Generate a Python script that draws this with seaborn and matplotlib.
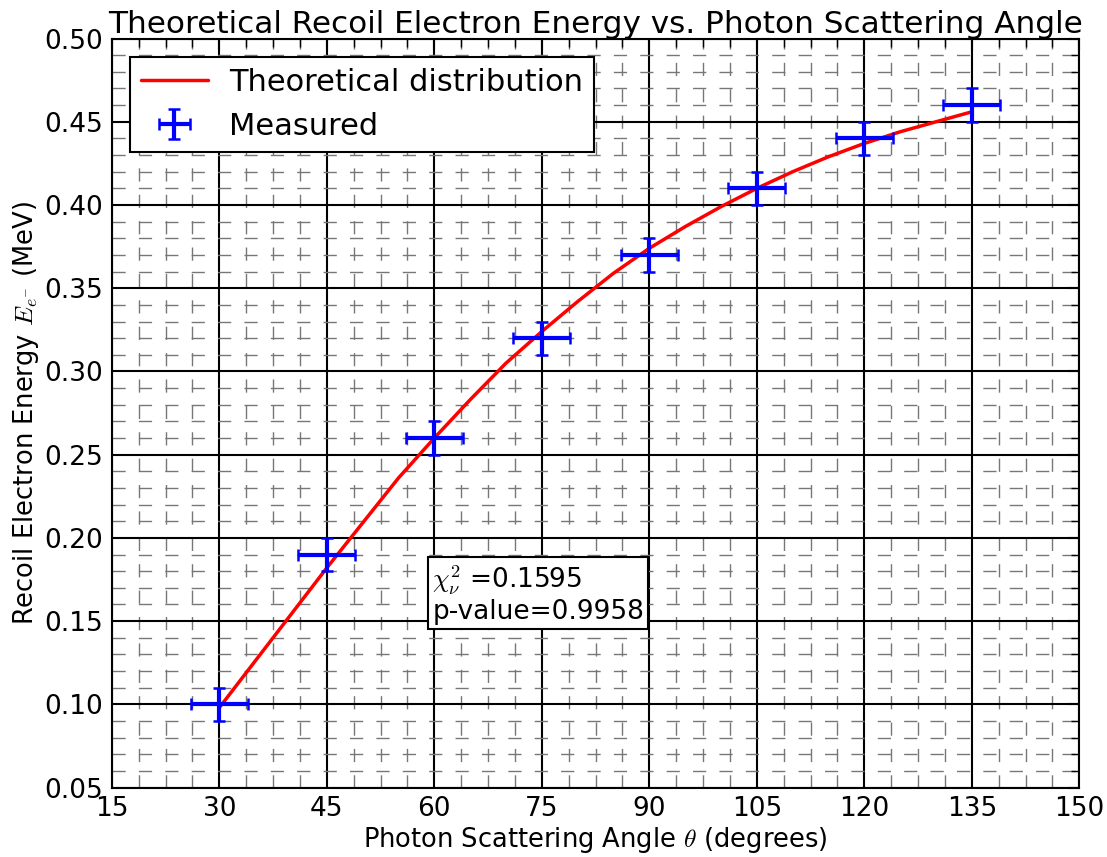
import numpy as np
import pandas as pd
import seaborn as sns
import matplotlib.pyplot as plt
from matplotlib.ticker import MultipleLocator, FormatStrFormatter

# Theoretical curve
theory_angle = [30, 35, 40, 45, 50, 55, 60, 65, 70, 75, 80, 85,
                90, 95, 100, 105, 110, 115, 120, 125, 130, 135]
theory_energy = [0.098, 0.126, 0.154, 0.182, 0.209, 0.236, 0.260, 0.283,
                 0.305, 0.324, 0.342, 0.359, 0.374, 0.387, 0.399, 0.410,
                 0.420, 0.429, 0.437, 0.444, 0.450, 0.456]

# Measured points
meas_angle = [30, 45, 60, 75, 90, 105, 120, 135]
meas_energy = [0.10, 0.19, 0.26, 0.32, 0.37, 0.41, 0.44, 0.46]
angle_err = [4, 4, 4, 4, 4, 4, 4, 4]
energy_err = [0.01, 0.01, 0.01, 0.01, 0.01, 0.01, 0.01, 0.01]

sns.set_theme(style="white", rc={
    "text.color": "black", "axes.labelcolor": "black",
    "xtick.color": "black", "ytick.color": "black",
    "axes.edgecolor": "black",
})
plt.rcParams['font.family'] = ['DejaVu Sans']
plt.rcParams['mathtext.fontset'] = 'cm'
plt.rcParams['lines.scale_dashes'] = False

fig, ax = plt.subplots(figsize=(11.07, 8.57), dpi=100)
fig.subplots_adjust(left=0.101, right=0.975, top=0.955, bottom=0.081)

theory = pd.DataFrame({"angle": theory_angle, "energy": theory_energy})
sns.lineplot(data=theory, x="angle", y="energy", ax=ax, color="red",
             linewidth=2.5, label="Theoretical distribution", zorder=4)

ax.errorbar(meas_angle, meas_energy, xerr=angle_err, yerr=energy_err,
            fmt='none', ecolor='blue', elinewidth=3, capsize=4.5,
            capthick=1.8, label="Measured", zorder=5)

ax.set_xlim(15, 150)
ax.set_ylim(0.05, 0.50)
ax.xaxis.set_major_locator(MultipleLocator(15))
ax.xaxis.set_minor_locator(MultipleLocator(3.75))
ax.yaxis.set_major_locator(MultipleLocator(0.05))
ax.yaxis.set_minor_locator(MultipleLocator(0.01))
ax.yaxis.set_major_formatter(FormatStrFormatter('%.2f'))

ax.grid(which='major', color='black', linestyle='-', linewidth=1.5)
ax.grid(which='minor', color='#777777', linestyle=(0, (9.5, 9.5)),
        linewidth=1.0)
ax.set_axisbelow(True)

ax.tick_params(which='both', top=True, right=True, direction='in',
               labelsize=19, colors='black')
ax.tick_params(which='major', length=8, width=1.5, pad=6)
ax.tick_params(which='minor', length=6, width=1.0)
for sp in ax.spines.values():
    sp.set_color('black')
    sp.set_linewidth(1.5)

ax.set_title("Theoretical Recoil Electron Energy vs. Photon Scattering Angle",
             fontsize=22.4, pad=4)
ax.set_xlabel(r"Photon Scattering Angle $\theta$ (degrees)", fontsize=18.5,
              labelpad=2)
ax.set_ylabel(r"Recoil Electron Energy $E_{e^{-}}$ (MeV)", fontsize=18.5,
              labelpad=3)

ax.text(59.7, 0.1475, "$\\chi^2_\\nu$ =0.1595\np-value=0.9958", fontsize=19,
        va='bottom', ha='left', zorder=6, linespacing=1.1,
        bbox=dict(boxstyle='square,pad=0.15', facecolor='white',
                  edgecolor='black', linewidth=1.5))

leg = ax.legend(loc='upper left', fontsize=22, fancybox=False, framealpha=1,
                edgecolor='black', borderaxespad=0.6, handlelength=2.2,
                handletextpad=0.7, borderpad=0.35, labelspacing=0.5)
leg.get_frame().set_linewidth(1.5)

fig.savefig("out.png", dpi=100)
